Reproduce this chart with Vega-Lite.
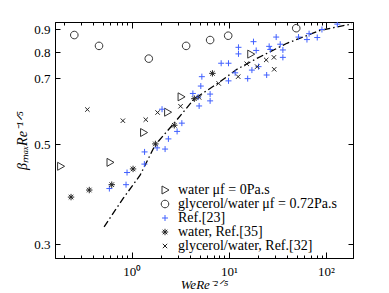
{
  "$schema": "https://vega.github.io/schema/vega-lite/v6.json",
  "width": 298,
  "height": 236,
  "autosize": {"type": "none"},
  "padding": {"left": 55, "top": 22, "right": 36, "bottom": 35},
  "datasets": {
    "pts": [
      {"x": 0.185, "y": 0.447, "series": "water μf = 0Pa.s"},
      {"x": 0.597, "y": 0.456, "series": "water μf = 0Pa.s"},
      {"x": 1.323, "y": 0.531, "series": "water μf = 0Pa.s"},
      {"x": 2.34, "y": 0.589, "series": "water μf = 0Pa.s"},
      {"x": 3.22, "y": 0.637, "series": "water μf = 0Pa.s"},
      {"x": 16.8, "y": 0.792, "series": "water μf = 0Pa.s"},
      {"x": 0.256, "y": 0.873, "series": "glycerol/water μf = 0.72Pa.s"},
      {"x": 0.46, "y": 0.826, "series": "glycerol/water μf = 0.72Pa.s"},
      {"x": 1.497, "y": 0.774, "series": "glycerol/water μf = 0.72Pa.s"},
      {"x": 3.63, "y": 0.826, "series": "glycerol/water μf = 0.72Pa.s"},
      {"x": 6.41, "y": 0.851, "series": "glycerol/water μf = 0.72Pa.s"},
      {"x": 9.84, "y": 0.87, "series": "glycerol/water μf = 0.72Pa.s"},
      {"x": 49.4, "y": 0.904, "series": "glycerol/water μf = 0.72Pa.s"},
      {"x": 0.588, "y": 0.399, "series": "Ref.[23]"},
      {"x": 0.873, "y": 0.407, "series": "Ref.[23]"},
      {"x": 0.894, "y": 0.433, "series": "Ref.[23]"},
      {"x": 1.349, "y": 0.452, "series": "Ref.[23]"},
      {"x": 1.355, "y": 0.481, "series": "Ref.[23]"},
      {"x": 1.823, "y": 0.491, "series": "Ref.[23]"},
      {"x": 2.204, "y": 0.488, "series": "Ref.[23]"},
      {"x": 2.384, "y": 0.514, "series": "Ref.[23]"},
      {"x": 2.93, "y": 0.534, "series": "Ref.[23]"},
      {"x": 3.28, "y": 0.557, "series": "Ref.[23]"},
      {"x": 2.05, "y": 0.598, "series": "Ref.[23]"},
      {"x": 4.26, "y": 0.648, "series": "Ref.[23]"},
      {"x": 4.83, "y": 0.636, "series": "Ref.[23]"},
      {"x": 4.94, "y": 0.608, "series": "Ref.[23]"},
      {"x": 5.14, "y": 0.673, "series": "Ref.[23]"},
      {"x": 5.27, "y": 0.706, "series": "Ref.[23]"},
      {"x": 6.41, "y": 0.646, "series": "Ref.[23]"},
      {"x": 6.41, "y": 0.624, "series": "Ref.[23]"},
      {"x": 8.33, "y": 0.756, "series": "Ref.[23]"},
      {"x": 9.91, "y": 0.756, "series": "Ref.[23]"},
      {"x": 9.91, "y": 0.691, "series": "Ref.[23]"},
      {"x": 11.61, "y": 0.72, "series": "Ref.[23]"},
      {"x": 12.56, "y": 0.82, "series": "Ref.[23]"},
      {"x": 12.56, "y": 0.793, "series": "Ref.[23]"},
      {"x": 15.62, "y": 0.699, "series": "Ref.[23]"},
      {"x": 17.27, "y": 0.73, "series": "Ref.[23]"},
      {"x": 17.93, "y": 0.844, "series": "Ref.[23]"},
      {"x": 19.12, "y": 0.807, "series": "Ref.[23]"},
      {"x": 20.2, "y": 0.743, "series": "Ref.[23]"},
      {"x": 24.5, "y": 0.712, "series": "Ref.[23]"},
      {"x": 26.0, "y": 0.824, "series": "Ref.[23]"},
      {"x": 26.7, "y": 0.811, "series": "Ref.[23]"},
      {"x": 33.8, "y": 0.833, "series": "Ref.[23]"},
      {"x": 36.0, "y": 0.809, "series": "Ref.[23]"},
      {"x": 36.0, "y": 0.779, "series": "Ref.[23]"},
      {"x": 30.7, "y": 0.864, "series": "Ref.[23]"},
      {"x": 52.2, "y": 0.864, "series": "Ref.[23]"},
      {"x": 63.7, "y": 0.853, "series": "Ref.[23]"},
      {"x": 67.0, "y": 0.879, "series": "Ref.[23]"},
      {"x": 81.3, "y": 0.862, "series": "Ref.[23]"},
      {"x": 90.9, "y": 0.898, "series": "Ref.[23]"},
      {"x": 130.8, "y": 0.923, "series": "Ref.[23]"},
      {"x": 0.237, "y": 0.382, "series": "water, Ref.[35]"},
      {"x": 0.365, "y": 0.396, "series": "water, Ref.[35]"},
      {"x": 0.622, "y": 0.407, "series": "water, Ref.[35]"},
      {"x": 1.031, "y": 0.441, "series": "water, Ref.[35]"},
      {"x": 1.751, "y": 0.501, "series": "water, Ref.[35]"},
      {"x": 2.74, "y": 0.551, "series": "water, Ref.[35]"},
      {"x": 4.41, "y": 0.631, "series": "water, Ref.[35]"},
      {"x": 6.77, "y": 0.718, "series": "water, Ref.[35]"},
      {"x": 0.349, "y": 0.597, "series": "glycerol/water, Ref.[32]"},
      {"x": 0.81, "y": 0.564, "series": "glycerol/water, Ref.[32]"},
      {"x": 1.394, "y": 0.567, "series": "glycerol/water, Ref.[32]"},
      {"x": 1.845, "y": 0.588, "series": "glycerol/water, Ref.[32]"},
      {"x": 3.18, "y": 0.607, "series": "glycerol/water, Ref.[32]"},
      {"x": 4.94, "y": 0.635, "series": "glycerol/water, Ref.[32]"},
      {"x": 7.85, "y": 0.682, "series": "glycerol/water, Ref.[32]"},
      {"x": 12.47, "y": 0.706, "series": "glycerol/water, Ref.[32]"},
      {"x": 15.26, "y": 0.754, "series": "glycerol/water, Ref.[32]"},
      {"x": 19.58, "y": 0.743, "series": "glycerol/water, Ref.[32]"},
      {"x": 24.24, "y": 0.769, "series": "glycerol/water, Ref.[32]"},
      {"x": 29.1, "y": 0.779, "series": "glycerol/water, Ref.[32]"},
      {"x": 29.3, "y": 0.733, "series": "glycerol/water, Ref.[32]"}
    ],
    "fit": [
      {"x": 0.519, "y": 0.328},
      {"x": 0.673, "y": 0.357},
      {"x": 0.819, "y": 0.38},
      {"x": 1.0, "y": 0.403},
      {"x": 1.218, "y": 0.427},
      {"x": 1.739, "y": 0.498},
      {"x": 2.73, "y": 0.557},
      {"x": 4.39, "y": 0.63},
      {"x": 7.81, "y": 0.684},
      {"x": 12.09, "y": 0.733},
      {"x": 19.45, "y": 0.775},
      {"x": 39.6, "y": 0.837},
      {"x": 87.3, "y": 0.894},
      {"x": 185.4, "y": 0.924}
    ]
  },
  "layer": [
    {
      "data": {"name": "fit"},
      "mark": {"type": "line", "color": "black", "strokeWidth": 1.3, "strokeDash": [7, 3, 1.5, 3], "clip": true},
      "encoding": {
        "x": {"field": "x", "type": "quantitative",
          "scale": {"type": "log", "domain": [0.162, 189.8], "nice": false},
          "axis": {"orient": "top", "labels": false, "title": null,
            "values": [0.2,0.3,0.4,0.5,0.6,0.7,0.8,0.9,1,2,3,4,5,6,7,8,9,10,20,30,40,50,60,70,80,90,100],
            "tickSize": {"condition": {"test": "datum.value == 1 || datum.value == 10 || datum.value == 100", "value": -6}, "value": -3}}},
        "y": {"field": "y", "type": "quantitative",
          "scale": {"type": "log", "domain": [0.28, 0.933], "nice": false},
          "axis": {"orient": "right", "labels": false, "title": null,
            "values": [0.3, 0.5, 0.7, 0.8, 0.9], "tickSize": -5}}
      }
    },
    {
      "data": {"name": "pts"},
      "mark": {"type": "point", "filled": false, "strokeWidth": 1, "size": 64, "opacity": 1, "clip": true},
      "encoding": {
        "x": {"field": "x", "type": "quantitative",
          "axis": {"orient": "bottom", "title": "WeRe⁻²ᐟ⁵",
            "values": [0.2,0.3,0.4,0.5,0.6,0.7,0.8,0.9,1,2,3,4,5,6,7,8,9,10,20,30,40,50,60,70,80,90,100],
            "labelExpr": "datum.value == 1 ? '10⁰' : datum.value == 10 ? '10¹' : datum.value == 100 ? '10²' : ''",
            "tickSize": {"condition": {"test": "datum.value == 1 || datum.value == 10 || datum.value == 100", "value": -6}, "value": -3},
            "labelPadding": 13, "titlePadding": 0, "titleFontSize": 13}},
        "y": {"field": "y", "type": "quantitative",
          "axis": {"orient": "left", "title": "βₘₐₓRe⁻¹ᐟ⁵",
            "values": [0.3, 0.5, 0.7, 0.8, 0.9], "format": ".1f",
            "tickSize": -5, "labelPadding": 10, "titlePadding": 4}},
        "color": {"field": "series", "type": "nominal",
          "scale": {"domain": ["water μf = 0Pa.s", "glycerol/water μf = 0.72Pa.s", "Ref.[23]", "water, Ref.[35]", "glycerol/water, Ref.[32]"],
            "range": ["#333333", "#333333", "#4060ff", "#222222", "#222222"]},
          "legend": {"orient": "none", "legendX": 103, "legendY": 161, "title": null}},
        "shape": {"field": "series", "type": "nominal",
          "scale": {"domain": ["water μf = 0Pa.s", "glycerol/water μf = 0.72Pa.s", "Ref.[23]", "water, Ref.[35]", "glycerol/water, Ref.[32]"],
            "range": ["M-0.75,-1L1,0L-0.75,1Z",
                      "M0.95,0A0.95,0.95 0 1,1 -0.95,0A0.95,0.95 0 1,1 0.95,0Z",
                      "M-0.75,0H0.75M0,-0.75V0.75",
                      "M-0.8,0H0.8M0,-0.8V0.8M-0.57,-0.57L0.57,0.57M-0.57,0.57L0.57,-0.57",
                      "M-0.55,-0.55L0.55,0.55M-0.55,0.55L0.55,-0.55"]},
          "legend": {"orient": "none", "legendX": 103, "legendY": 161, "title": null}}
      }
    }
  ],
  "resolve": {"axis": {"x": "independent", "y": "independent"}},
  "config": {
    "view": {"stroke": "black", "strokeWidth": 1},
    "axis": {"grid": false, "domainColor": "black", "tickColor": "black", "labelColor": "black",
      "labelFont": "Liberation Serif", "labelFontSize": 13, "titleFont": "Liberation Serif",
      "titleFontSize": 14, "titleFontWeight": "normal", "titleFontStyle": "italic", "titleColor": "black",
      "domainWidth": 1, "tickWidth": 1},
    "legend": {"labelFont": "Liberation Serif", "labelFontSize": 14, "labelColor": "black",
      "symbolSize": 64, "symbolStrokeWidth": 1, "rowPadding": 0, "labelOffset": 6, "padding": 0,
      "labelLimit": 300}
  }
}
